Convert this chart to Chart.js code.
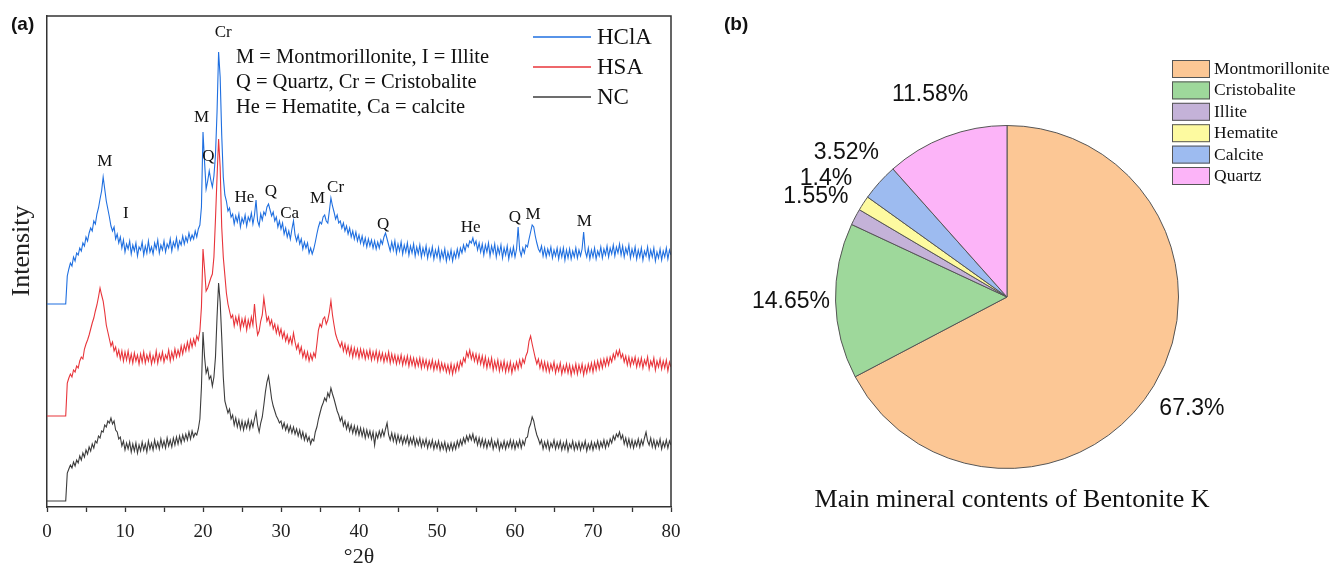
<!DOCTYPE html>
<html>
<head>
<meta charset="utf-8">
<script src="https://cdn.jsdelivr.net/npm/chart.js@4"></script>
<style>
  html, body { margin: 0; padding: 0; background: #fff; }
  #wrap { position: relative; width: 1333px; height: 568px; overflow: hidden; }
  #xrd { position: absolute; left: 0; top: 0; }
  #pie { position: absolute; left: 700px; top: 0; }
</style>
</head>
<body>
<div id="wrap">
  <canvas id="xrd" width="700" height="568"></canvas>
  <canvas id="pie" width="633" height="568"></canvas>
</div>
<script>
// ---- (a) XRD patterns, scan 0-80 deg 2theta, step 0.2 ----
const scanStart = 0, scanStep = 0.2, scanCount = 401;
const scanAngles = Array.from({ length: scanCount }, (_, i) => +(scanStart + i * scanStep).toFixed(1));

// one row = 4 deg
const hclaCounts = [
  203,203,203,203,203,203,203,203,203,203,203,203,203,231,238,244,241,250,246,254,
  252,259,256,264,261,270,266,274,279,276,286,283,293,299,308,316,330,318,306,298,
  290,281,276,280,268,273,264,270,259,267,255,263,258,266,253,262,256,264,251,260,
  257,265,252,261,254,266,255,260,253,264,258,267,254,262,257,266,255,263,259,268,
  256,265,260,269,258,266,262,271,263,270,265,274,267,272,268,276,270,278,282,300,
  375,345,318,326,336,327,320,331,352,395,455,430,372,330,312,306,296,299,290,293,
  283,291,285,293,280,289,284,292,281,290,286,294,283,292,307,286,281,293,287,295,
  292,300,303,297,291,295,286,290,280,286,278,284,273,279,270,276,268,278,286,272,
  266,272,263,268,258,265,259,264,254,259,253,258,265,273,280,285,283,290,292,286,
  284,296,309,301,295,288,292,284,286,279,284,276,281,273,279,270,276,268,275,266,
  272,264,271,262,269,260,268,261,267,259,266,258,265,259,267,263,270,274,268,262,
  256,265,257,266,254,263,256,265,253,262,255,264,252,261,254,263,251,260,253,262,
  250,259,252,261,249,258,251,260,248,257,250,259,247,256,249,258,246,255,248,257,
  246,255,249,258,250,259,254,262,256,263,260,266,264,269,262,266,257,264,255,263,
  252,262,255,264,251,261,254,263,250,260,253,262,249,259,252,261,248,258,251,260,
  250,258,280,257,251,259,254,262,260,268,275,282,280,271,264,258,255,261,251,259,
  250,258,252,260,249,257,251,259,248,258,250,259,247,257,249,258,248,256,250,259,
  249,257,251,258,275,256,250,259,248,257,250,259,248,256,251,260,249,258,252,261,
  250,259,253,262,251,260,254,263,252,261,250,259,253,262,249,258,251,260,248,257,
  250,259,247,256,251,260,248,257,250,259,246,255,249,258,247,256,250,259,248,257,
  252
];
const hsaCounts = [
  91,91,91,91,91,91,91,91,91,91,91,91,91,124,129,133,130,137,135,141,
  139,146,150,148,158,163,167,172,178,184,189,196,202,210,219,212,206,195,182,175,
  168,161,165,156,160,151,157,148,156,146,155,147,156,145,153,144,154,146,152,143,
  153,145,155,144,152,146,154,143,151,145,156,144,153,147,155,145,152,148,157,146,
  155,148,158,150,157,151,161,153,162,156,165,157,167,160,168,162,171,167,176,200,
  258,238,216,219,224,229,233,250,288,330,368,340,280,250,232,214,203,196,189,192,
  181,190,183,191,178,188,181,189,177,187,180,190,182,203,185,172,176,186,192,209,
  197,186,190,182,187,178,183,174,181,172,178,169,175,166,172,164,170,163,174,165,
  158,163,154,160,150,156,148,155,146,153,147,154,150,163,177,183,180,188,190,183,
  187,195,206,192,182,173,168,164,160,165,156,163,154,161,152,160,150,159,151,158,
  149,158,150,157,148,156,149,157,147,155,148,156,146,155,147,154,145,153,146,155,
  144,153,145,152,143,151,144,152,142,150,143,151,141,150,142,149,140,148,141,149,
  139,148,140,147,138,146,139,147,137,145,138,146,136,144,137,143,135,142,134,143,
  133,142,135,144,137,146,141,149,145,155,150,157,148,154,146,153,144,152,143,151,
  141,150,139,148,140,149,137,146,138,147,136,145,137,146,135,144,136,145,134,143,
  137,145,138,147,140,148,144,151,155,166,171,163,156,149,143,148,139,146,137,145,
  136,144,135,143,137,145,134,142,136,144,133,141,135,143,134,142,132,141,134,143,
  133,142,135,143,132,141,134,143,136,144,135,145,137,146,138,147,139,148,141,149,
  142,150,145,153,148,156,151,157,149,153,145,151,142,150,141,149,143,150,140,148,
  141,149,139,147,142,150,138,146,141,149,137,146,140,148,138,146,139,147,136,145,
  140
];
const ncCounts = [
  6,6,6,6,6,6,6,6,6,6,6,6,6,34,38,42,39,45,41,47,
  44,51,47,54,50,57,53,60,56,63,59,66,64,71,69,76,75,82,80,86,
  84,89,83,86,77,75,68,70,61,66,57,64,58,65,55,63,56,64,54,62,
  56,65,57,63,55,66,58,64,57,67,59,65,58,68,60,66,59,69,61,67,
  60,69,62,70,63,71,64,72,66,73,67,75,68,76,70,74,72,78,88,120,
  175,150,134,139,128,131,121,130,150,190,224,205,170,130,106,100,94,98,88,92,
  82,89,80,87,78,86,77,85,79,87,78,86,80,88,95,82,75,84,90,102,
  115,125,131,120,108,101,96,91,88,84,86,79,84,77,82,75,81,74,80,73,
  78,71,77,69,75,67,73,66,70,63,68,66,75,80,88,94,100,104,109,106,
  114,110,119,113,108,102,96,92,86,90,81,86,78,84,76,82,74,81,73,80,
  72,79,71,78,69,77,70,76,68,75,62,74,69,76,70,77,71,78,84,72,
  67,74,66,73,64,72,65,71,63,70,64,71,62,69,63,70,61,68,62,69,
  60,67,61,68,59,66,60,67,58,65,59,66,57,64,58,65,56,63,57,64,
  57,64,58,66,60,67,62,69,64,71,66,72,67,73,65,70,62,69,61,68,
  60,67,59,66,61,68,58,65,60,67,57,64,59,66,58,65,60,67,59,66,
  58,65,60,67,59,66,62,69,70,79,83,90,86,78,72,68,63,67,58,65,
  59,66,57,64,60,67,58,65,59,66,57,64,58,66,56,63,59,66,57,64,
  58,65,57,64,59,66,56,63,58,65,57,64,59,66,58,65,60,67,59,66,
  61,68,64,71,67,73,70,75,68,72,63,69,61,68,60,67,59,66,61,68,
  60,67,62,69,75,66,62,69,60,67,59,66,61,68,58,65,60,67,59,66,
  62
];

const seriesNames = ['HClA', 'HSA', 'NC'];
const seriesColors = ['#1f6fe0', '#e8343a', '#3c3c3c'];

// peak markers: letter, 2theta, height of the letter (same units as counts)
const peakTags   = ['Cr', 'M', 'Q', 'M', 'I', 'He', 'Q', 'Ca', 'M', 'Cr', 'Q', 'He', 'Q', 'M', 'M'];
const peakAngles = [22.6, 19.8, 20.7, 7.4, 10.1, 25.3, 28.7, 31.1, 34.7, 37.0, 43.1, 54.3, 60.0, 62.3, 68.9];
const peakLevels = [474, 389, 350, 345, 293, 309, 315, 293, 308, 319, 282, 279, 289, 292, 285];

const keyLines = [
  'M = Montmorillonite, I = Illite',
  'Q = Quartz, Cr = Cristobalite',
  'He = Hematite, Ca = calcite'
];

// ---- (b) mineral contents ----
const minerals = ['Montmorillonite', 'Cristobalite', 'Illite', 'Hematite', 'Calcite', 'Quartz'];
const contents = [67.3, 14.65, 1.55, 1.4, 3.52, 11.58];
const mineralColors = ['#fcc795', '#9ed89b', '#c4b2d8', '#fdfaa0', '#9dbbf0', '#fcb4f8'];
const pieTitle = 'Main mineral contents of Bentonite K';

const SERIF = "'Liberation Serif', 'Times New Roman', serif";
const SANS = "'Liberation Sans', Arial, sans-serif";

function toPoints(values) {
  return values.map((v, i) => ({ x: scanAngles[i], y: v }));
}

const xrdDecor = {
  id: 'xrdDecor',
  afterDraw(chart) {
    const { ctx, chartArea: a, scales } = chart;
    ctx.save();
    // box: top and right edges
    ctx.strokeStyle = '#333';
    ctx.lineWidth = 1.5;
    ctx.beginPath();
    ctx.moveTo(a.left, a.top);
    ctx.lineTo(a.right, a.top);
    ctx.lineTo(a.right, a.bottom);
    ctx.stroke();

    ctx.fillStyle = '#111';
    ctx.font = 'bold 19px ' + SANS;
    ctx.textBaseline = 'middle';
    ctx.textAlign = 'left';
    ctx.fillText('(a)', 11, 25);

    // y title
    ctx.save();
    ctx.translate(22, 251);
    ctx.rotate(-Math.PI / 2);
    ctx.textAlign = 'center';
    ctx.font = '26px ' + SERIF;
    ctx.fillStyle = '#222';
    ctx.fillText('Intensity', 0, 0);
    ctx.restore();

    // legend
    ctx.font = '23px ' + SERIF;
    chart.data.datasets.forEach((ds, i) => {
      const y = 37 + i * 30;
      ctx.strokeStyle = ds.borderColor;
      ctx.lineWidth = 1.5;
      ctx.beginPath();
      ctx.moveTo(533, y);
      ctx.lineTo(591, y);
      ctx.stroke();
      ctx.fillStyle = '#111';
      ctx.fillText(ds.label, 597, y + 1);
    });

    // key
    ctx.font = '20.5px ' + SERIF;
    keyLines.forEach((t, i) => ctx.fillText(t, 236, 58 + i * 25));

    // peak letters
    ctx.font = '17px ' + SERIF;
    ctx.textAlign = 'center';
    peakTags.forEach((t, i) => {
      ctx.fillText(t, scales.x.getPixelForValue(peakAngles[i]), scales.y.getPixelForValue(peakLevels[i]));
    });
    ctx.restore();
  }
};

new Chart(document.getElementById('xrd'), {
  type: 'line',
  data: {
    datasets: [hclaCounts, hsaCounts, ncCounts].map((vals, i) => ({
      label: seriesNames[i],
      data: toPoints(vals),
      borderColor: seriesColors[i],
      borderWidth: 1.1,
      pointRadius: 0,
      tension: 0,
      fill: false
    }))
  },
  options: {
    responsive: false,
    animation: false,
    layout: { padding: { top: 16, right: 29, left: 0, bottom: 0 } },
    plugins: { legend: { display: false }, tooltip: { enabled: false } },
    scales: {
      x: {
        type: 'linear', min: 0, max: 80,
        ticks: {
          stepSize: 5, autoSkip: false, maxRotation: 0, padding: 9, color: '#222',
          font: { family: SERIF, size: 19 },
          callback: v => (v % 10 === 0 ? v : '')
        },
        grid: { drawOnChartArea: false, drawTicks: true, tickLength: 5, tickColor: '#333', tickWidth: 1.3 },
        border: { color: '#333', width: 1.5 },
        title: { display: true, text: '°2θ', color: '#222', font: { family: SERIF, size: 22, lineHeight: 1.0 }, padding: { top: 0, bottom: 0 } },
        afterFit: s => { s.height = 61; }
      },
      y: {
        min: 0, max: 491,
        ticks: { display: false },
        grid: { display: false, drawTicks: false },
        border: { color: '#333', width: 1.5 },
        title: { display: false },
        afterFit: s => { s.width = 47; }
      }
    }
  },
  plugins: [xrdDecor]
});

const pieDecor = {
  id: 'pieDecor',
  afterDraw(chart) {
    const { ctx } = chart;
    const ds = chart.data.datasets[0];
    const arcs = chart.getDatasetMeta(0).data;
    ctx.save();
    ctx.fillStyle = '#111';
    ctx.textBaseline = 'middle';

    ctx.font = 'bold 19px ' + SANS;
    ctx.textAlign = 'left';
    ctx.fillText('(b)', 24, 25);

    // percentage labels along each slice's mid angle
    ctx.font = '23px ' + SANS;
    ctx.textAlign = 'center';
    arcs.forEach((arc, i) => {
      const p = arc.getProps(['x', 'y', 'startAngle', 'endAngle', 'outerRadius'], true);
      const mid = (p.startAngle + p.endAngle) / 2;
      const r = p.outerRadius * 1.26;
      ctx.fillText(ds.data[i] + '%', p.x + r * Math.cos(mid), p.y + r * Math.sin(mid));
    });

    // legend
    ctx.font = '17.5px ' + SERIF;
    ctx.textAlign = 'left';
    chart.data.labels.forEach((lab, i) => {
      const top = 60 + i * 21.4;
      ctx.fillStyle = ds.backgroundColor[i];
      ctx.fillRect(472, top, 38, 18);
      ctx.strokeStyle = '#555';
      ctx.lineWidth = 1;
      ctx.strokeRect(472.5, top + 0.5, 37, 17);
      ctx.fillStyle = '#111';
      ctx.fillText(lab, 514, top + 9.5);
    });

    ctx.font = '26px ' + SERIF;
    ctx.textAlign = 'center';
    ctx.fillText(pieTitle, 312, 500);
    ctx.restore();
  }
};

new Chart(document.getElementById('pie'), {
  type: 'pie',
  data: {
    labels: minerals,
    datasets: [{
      data: contents,
      backgroundColor: mineralColors,
      borderColor: '#555',
      borderWidth: 1
    }]
  },
  options: {
    responsive: false,
    animation: false,
    layout: { padding: { left: 135, top: 125, right: 154, bottom: 99 } },
    plugins: { legend: { display: false }, tooltip: { enabled: false } }
  },
  plugins: [pieDecor]
});
</script>
</body>
</html>
